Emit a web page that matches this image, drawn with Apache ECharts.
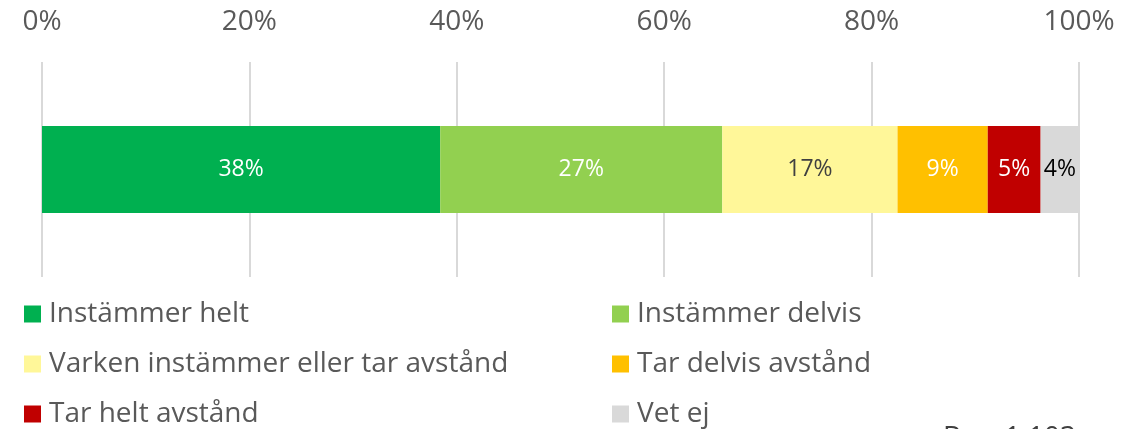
<!DOCTYPE html>
<html>
<head>
<meta charset="utf-8">
<script src="https://cdn.jsdelivr.net/npm/echarts@6/dist/echarts.min.js"></script>
<style>
    html, body { margin: 0; padding: 0; background: #fff; }
    #chart { width: 1135px; height: 429px; }
</style>
</head>
<body>
<div id="chart"></div>
<script>
    // svarsalternativ och andelar (%)
    var categories = ['Instämmer helt', 'Instämmer delvis', 'Varken instämmer eller tar avstånd',
        'Tar delvis avstånd', 'Tar helt avstånd', 'Vet ej'];
    var values = [38.4, 27.2, 16.9, 8.7, 5.1, 3.7];
    var colors = ['#00b050', '#92d050', '#fff799', '#ffc000', '#c00000', '#d9d9d9'];
    var labelColors = ['#ffffff', '#ffffff', '#404040', '#ffffff', '#ffffff', '#000000'];
    var tickLabels = ['0%', '20%', '40%', '60%', '80%', '100%'];
    var baseText = 'Bas: 1 103';

    var FONT = '"Open Sans", Lato, sans-serif';

    var series = categories.map(function (name, i) {
        return {
            name: name,
            type: 'bar',
            stack: 'total',
            barWidth: 87,
            itemStyle: { color: colors[i] },
            label: {
                show: true,
                position: 'inside',
                color: labelColors[i],
                fontFamily: FONT,
                fontSize: 23,
                formatter: function (p) { return Math.round(p.value) + '%'; }
            },
            data: [values[i]]
        };
    });

    var legendStyle = { color: '#595959', fontFamily: FONT, fontSize: 28, lineHeight: 30, padding: [0, 0, 0, 3] };

    var myChart = echarts.init(document.getElementById('chart'));
    myChart.setOption({
        animation: false,
        grid: { left: 42, right: 56, top: 62, bottom: 152 },
        xAxis: {
            type: 'value',
            position: 'top',
            min: 0,
            max: 100,
            interval: 20,
            axisLine: { show: false },
            axisTick: { show: false },
            axisLabel: {
                margin: 26,
                color: '#595959',
                fontFamily: FONT,
                fontSize: 28,
                formatter: function (v) { return tickLabels[v / 20]; }
            },
            splitLine: { lineStyle: { color: '#d9d9d9', width: 2 } }
        },
        yAxis: {
            type: 'category',
            data: [''],
            show: false
        },
        legend: [
            {
                orient: 'vertical',
                left: 24,
                top: 299,
                padding: 0,
                itemWidth: 17,
                itemHeight: 17,
                itemGap: 20,
                icon: 'rect',
                data: [categories[0], categories[2], categories[4]],
                textStyle: legendStyle
            },
            {
                orient: 'vertical',
                left: 612,
                top: 299,
                padding: 0,
                itemWidth: 17,
                itemHeight: 17,
                itemGap: 20,
                icon: 'rect',
                data: [categories[1], categories[3], categories[5]],
                textStyle: legendStyle
            }
        ],
        graphic: [{
            type: 'text',
            left: 943,
            top: 424,
            style: { text: baseText, fill: '#404040', font: '28px ' + FONT }
        }],
        series: series
    });
</script>
</body>
</html>
